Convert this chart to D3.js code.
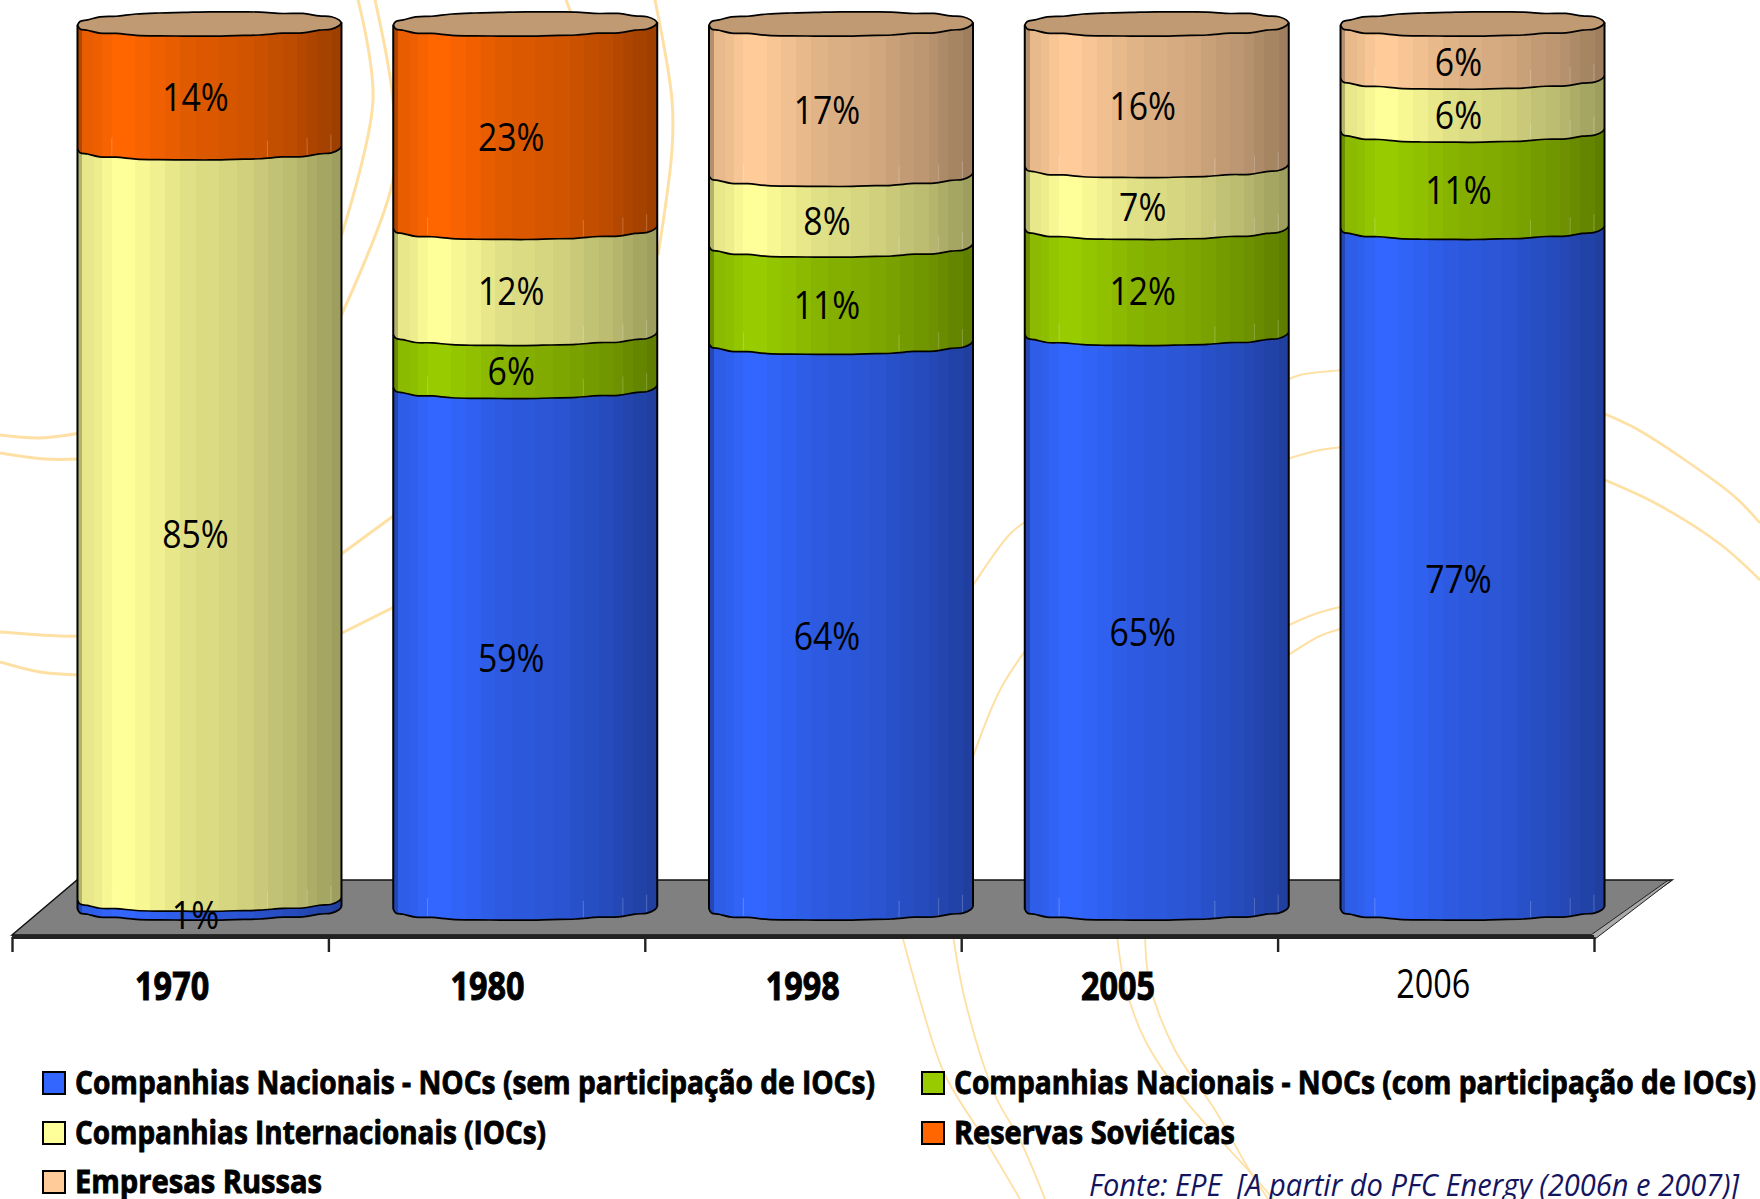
<!DOCTYPE html>
<html>
<head>
<meta charset="utf-8">
<script src="https://cdn.jsdelivr.net/npm/d3@7"></script>
<style>
    html, body { margin: 0; padding: 0; background: #fff; }
    svg { display: block; }
    text { font-family: "Open Sans", "Liberation Sans", sans-serif; }
</style>
</head>
<body>
<div id="chart"></div>
<script>
// values
const years = ['1970', '1980', '1998', '2005', '2006'];
const boldYears = ['1970', '1980', '1998', '2005'];
const seriesNames = [
    'Companhias Nacionais - NOCs (sem participação de IOCs)',
    'Companhias Nacionais - NOCs (com participação de IOCs)',
    'Companhias Internacionais (IOCs)',
    'Reservas Soviéticas',
    'Empresas Russas'
];
const nocSem = [1, 59, 64, 65, 77];
const nocCom = [0, 6, 11, 12, 11];
const iocs = [85, 12, 8, 7, 6];
const sovieticas = [14, 23, 0, 0, 0];
const russas = [0, 0, 17, 16, 6];
const seriesValues = [nocSem, nocCom, iocs, sovieticas, russas];
const seriesColors = ['#3366ff', '#99cc00', '#ffff99', '#ff6600', '#ffcc99'];
const source = 'Fonte: EPE  [A partir do PFC Energy (2006n e 2007)]';

// vertical strips of the faked 3d shading, fraction of width and brightness
const facetEdges = [0, .018, .062, .093, .13, .218, .274, .331, .387, .45, .537, .606, .669, .723, .778, .832, .869, .907, .963, 1];
const facetShade = [.7, .91, .93, .97, 1, .97, .94, .91, .88, .86, .84, .82, .79, .76, .74, .71, .68, .65, .62];
const rimWobble = [0, .5, -.4, .6, -.5, .3, .2, 0, .2, 0, .2, -.5, .6, -.4, .6, -.3, 0];
const seamFractions = [.13, .72, .87, .96];
const legendWidths = [800, 802, 471, 281, 247];

// the pale swirls of the slide background
const swirls = [
    {w: 3, p: [[0, 435], [40, 438], [80, 433]]},
    {w: 3, p: [[0, 453], [45, 459], [80, 459]]},
    {w: 3, p: [[0, 632], [60, 636], [80, 636]]},
    {w: 3, p: [[0, 662], [40, 672], [80, 675]]},
    {w: 3, p: [[340, 555], [396, 514]]},
    {w: 3, p: [[340, 634], [396, 606]]},
    {w: 3, p: [[358, 0], [373, 100], [340, 240]]},
    {w: 3, p: [[375, 0], [393, 100], [393, 180], [340, 318]]},
    {w: 3, p: [[566, 0], [573, 18]]},
    {w: 3, p: [[655, 0], [672, 100], [672, 150], [658, 255]]},
    {w: 2, p: [[970, 590], [1010, 534], [1028, 520]]},
    {w: 2, p: [[970, 765], [1000, 690], [1028, 647]]},
    {w: 2, p: [[1287, 380], [1300, 375], [1344, 370]]},
    {w: 2, p: [[1287, 459], [1320, 450], [1344, 447]]},
    {w: 2, p: [[1287, 626], [1315, 614], [1344, 606]]},
    {w: 2, p: [[1287, 656], [1320, 636], [1344, 628]]},
    {w: 2.6, p: [[1600, 412], [1635, 428], [1685, 460], [1735, 497], [1760, 523]]},
    {w: 2.6, p: [[1600, 478], [1655, 503], [1720, 544], [1760, 580]]},
    {w: 1.8, p: [[902, 935], [920, 1000], [945, 1075], [985, 1140], [1020, 1199]]},
    {w: 1.8, p: [[953, 935], [965, 1000], [995, 1095], [1020, 1140], [1045, 1199]]},
    {w: 1.8, p: [[1117, 935], [1125, 985], [1145, 1040], [1185, 1100], [1251, 1173], [1273, 1199]]},
    {w: 1.8, p: [[1145, 935], [1150, 985], [1175, 1050], [1215, 1110], [1251, 1173], [1268, 1199]]}
];

const width = 1760, height = 1199;
const svg = d3.select('#chart').append('svg').attr('width', width).attr('height', height);

const x_scale = d3.scaleBand().domain(years).range([12, 1594]);
// the cylinders stand further back on the floor than the axis
const depth_scale = d3.scaleBand().domain(years).range([51.6, 1630.4]);
const year_scale = d3.scaleBand().domain(years).range([14.5, 1591]);
const y_scale = d3.scaleLinear().domain([0, 100]).range([908, 24]);
const tick_scale = d3.scaleLinear().domain([0, years.length]).range(x_scale.range());

const rx = 132, ry = 12, tilt = 1.2;
const cx = year => depth_scale(year) + depth_scale.bandwidth() / 2;

function shade(color, k){
    const c = d3.rgb(color);
    return d3.rgb(c.r * k, c.g * k, c.b * k).formatHex();
}

// no condensed face is installed, so squeeze the glyphs to the measured width
function squeeze(selection, k){
    selection.each(function(){
        d3.select(this)
            .attr('textLength', this.getComputedTextLength() * k)
            .attr('lengthAdjust', 'spacingAndGlyphs');
    });
}

// gradients with hard stops give the strips
const defs = svg.append('defs');
seriesColors.forEach((color, i) => {
    const grad = defs.append('linearGradient').attr('id', 'facets' + i);
    facetShade.forEach((k, j) => {
        grad.append('stop').attr('offset', facetEdges[j]).attr('stop-color', shade(color, k));
        grad.append('stop').attr('offset', facetEdges[j + 1]).attr('stop-color', shade(color, k));
    });
});

// background
const swirl_line = d3.line().curve(d3.curveCatmullRom);
svg.append('g').selectAll('path').data(swirls).join('path')
    .attr('d', d => swirl_line(d.p))
    .attr('fill', 'none')
    .attr('stroke', '#fee0a4')
    .attr('stroke-width', d => d.w);

// floor
const [fx0, fx1] = x_scale.range();
const floor = svg.append('g');
floor.append('path')
    .attr('d', `M${fx0},935 L${fx0 + 65},880 L${fx1 + 78},880 L${fx1},935 Z`)
    .attr('fill', '#808080').attr('stroke', '#111').attr('stroke-width', 1.5);
floor.append('path')
    .attr('d', `M${fx1 + 1},939 L${fx1 + 78},880 L${fx1 + 73},881 L${fx1 - 3},935 Z`)
    .attr('fill', '#aaa').attr('stroke', '#222').attr('stroke-width', 1);
floor.append('rect').attr('x', fx0).attr('y', 935).attr('width', fx1 - fx0).attr('height', 4).attr('fill', '#222');

const axis = d3.axisBottom(tick_scale).ticks(years.length).tickSize(15).tickFormat('');
svg.append('g').attr('transform', 'translate(0,937)').call(axis)
    .call(g => g.select('.domain').remove())
    .call(g => g.selectAll('.tick line').attr('stroke', '#222').attr('stroke-width', 2.4));

svg.append('g').selectAll('text').data(years).join('text')
    .attr('x', d => year_scale(d) + year_scale.bandwidth() / 2)
    .attr('y', d => boldYears.includes(d) ? 1000 : 998)
    .attr('text-anchor', 'middle')
    .attr('font-size', 40)
    .attr('font-weight', d => boldYears.includes(d) ? 'bold' : 'normal')
    .attr('stroke', d => boldYears.includes(d) ? '#000' : 'none')
    .attr('stroke-width', 1)
    .text(d => d)
    .call(squeeze, .81);

// front half of a ring round a cylinder, left to right
function rim(center, level){
    const n = rimWobble.length - 1;
    return d3.range(n + 1).map(i => {
        const a = Math.PI * (1 - i / n);
        const px = center + rx * Math.cos(a);
        const py = level + ry * Math.pow(Math.sin(a), .8) - tilt * Math.cos(a) + rimWobble[i];
        return [px, py];
    });
}
const rim_line = d3.line().curve(d3.curveCatmullRom);

const stack = d3.stack().keys(d3.range(seriesValues.length)).value((d, k) => seriesValues[k][d]);
const layers = stack(d3.range(years.length));

const cylinders = svg.append('g');
years.forEach((year, yi) => {
    const c = cx(year);
    const g = cylinders.append('g');
    layers.forEach((layer, si) => {
        const [v0, v1] = layer[yi];
        if(v1 === v0) return;
        const low = rim(c, y_scale(v0));
        const high = rim(c, y_scale(v1)).reverse();
        const body = rim_line(low) + 'L' + rim_line(high).slice(1) + 'Z';
        g.append('path').attr('d', body).attr('fill', `url(#facets${si})`).attr('stroke', 'none');

        // short seams just above each ring
        if(y_scale(v0) - y_scale(v1) > 30){
            seamFractions.forEach(f => {
                const foot = y_scale(v0) + ry * Math.sqrt(1 - (2 * f - 1) ** 2);
                g.append('line')
                    .attr('x1', c - rx + 2 * rx * f).attr('x2', c - rx + 2 * rx * f)
                    .attr('y1', foot - 18).attr('y2', foot)
                    .attr('stroke', '#fff').attr('stroke-opacity', .22);
            });
        }
        g.append('path').attr('d', rim_line(low)).attr('fill', 'none').attr('stroke', '#000').attr('stroke-width', 1.7);
    });

    const top = rim(c, y_scale(100));
    const back = top.map(([px, py]) => [px, 2 * y_scale(100) - py - 2 * tilt * (px - c) / rx]).reverse();
    g.append('path')
        .attr('d', rim_line(top) + 'L' + rim_line(back).slice(1) + 'Z')
        .attr('fill', '#bf9a72').attr('stroke', '#000').attr('stroke-width', 1.7);

    // side edges
    [-1, 1].forEach(side => {
        g.append('line')
            .attr('x1', c + side * rx).attr('x2', c + side * rx)
            .attr('y1', y_scale(100) - side * tilt).attr('y2', y_scale(0) - side * tilt)
            .attr('stroke', '#000').attr('stroke-width', 2);
    });
});

// value labels after all cylinders so that 1% stays on top
const labels = svg.append('g');
years.forEach((year, yi) => {
    layers.forEach(layer => {
        const [v0, v1] = layer[yi];
        if(v1 === v0) return;
        labels.append('text')
            .attr('x', cx(year) - 14)
            .attr('y', (y_scale(v0) + y_scale(v1)) / 2 + 25)
            .attr('text-anchor', 'middle')
            .attr('font-size', 38)
            .attr('fill', '#000')
            .text((v1 - v0) + '%')
            .call(squeeze, .89);
    });
});

// legend, row by row in two columns
const legend_x = [43, 922], legend_y = [1072, 1122, 1171];
const legend = svg.append('g').selectAll('g').data(seriesNames).join('g')
    .attr('transform', (d, i) => `translate(${legend_x[i % 2]},${legend_y[Math.floor(i / 2)]})`);
legend.append('rect')
    .attr('width', 22).attr('height', 22)
    .attr('fill', (d, i) => seriesColors[i])
    .attr('stroke', '#000').attr('stroke-width', 2);
legend.append('text')
    .attr('x', 32).attr('y', 22)
    .attr('font-size', 33).attr('font-weight', 'bold')
    .attr('stroke', '#000').attr('stroke-width', .9)
    .attr('textLength', (d, i) => legendWidths[i])
    .attr('lengthAdjust', 'spacingAndGlyphs')
    .text(d => d);

const source_text = svg.append('text')
    .attr('x', 1089).attr('y', 1196)
    .attr('font-size', 31).attr('font-style', 'italic')
    .attr('fill', '#14145f')
    .style('white-space', 'pre')
    .text(source);
source_text.call(squeeze, 650 / source_text.node().getComputedTextLength());
</script>
</body>
</html>
